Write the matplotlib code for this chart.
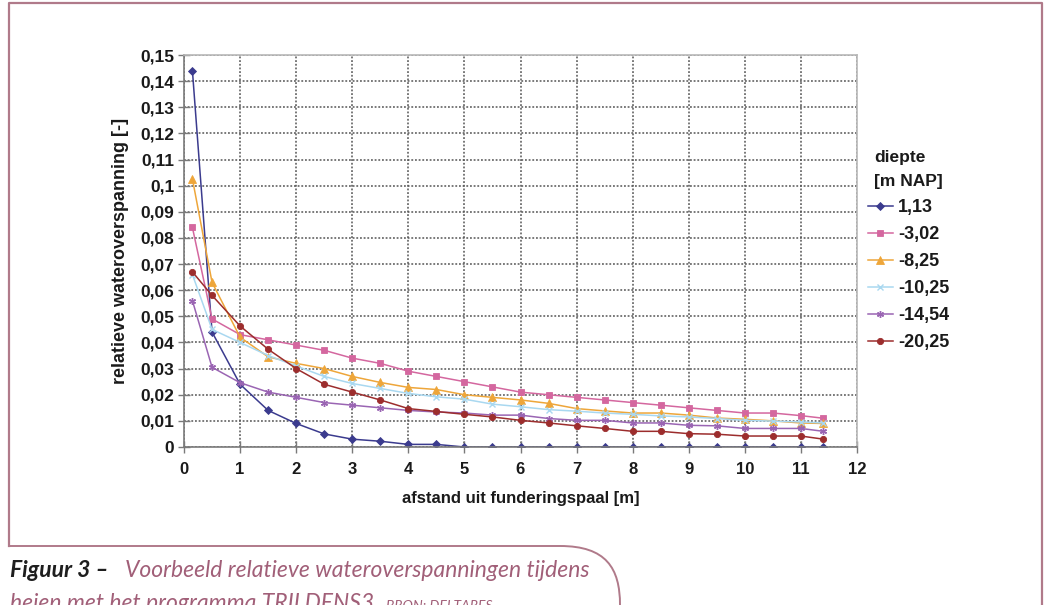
import matplotlib
matplotlib.use("Agg")
import matplotlib.pyplot as plt
from matplotlib.ticker import MultipleLocator, FuncFormatter
from matplotlib.path import Path
from matplotlib.patches import PathPatch
from matplotlib.lines import Line2D

# ---------------- data ----------------
afstand = [0.15, 0.5, 1, 1.5, 2, 2.5, 3, 3.5, 4, 4.5, 5, 5.5, 6, 6.5, 7, 7.5,
           8, 8.5, 9, 9.5, 10, 10.5, 11, 11.4]

d_1_13 = [0.144, 0.044, 0.024, 0.014, 0.009, 0.005, 0.003, 0.0022, 0.001, 0.001,
          0, 0, 0, 0, 0, 0, 0, 0, 0, 0, 0, 0, 0, 0]
d_3_02 = [0.084, 0.049, 0.043, 0.041, 0.039, 0.037, 0.034, 0.032, 0.029, 0.027,
          0.025, 0.023, 0.021, 0.020, 0.019, 0.018, 0.017, 0.016, 0.015, 0.014,
          0.013, 0.013, 0.012, 0.011]
d_8_25 = [0.1026, 0.063, 0.042, 0.0345, 0.032, 0.030, 0.027, 0.0247, 0.0228, 0.022,
          0.020, 0.019, 0.018, 0.0167, 0.0147, 0.0138, 0.013, 0.013, 0.0122, 0.0111,
          0.0106, 0.010, 0.0092, 0.009]
d_10_25 = [0.066, 0.045, 0.040, 0.035, 0.031, 0.027, 0.0243, 0.0224, 0.0205, 0.0192,
           0.0183, 0.0164, 0.0154, 0.0143, 0.0137, 0.013, 0.0125, 0.0119, 0.0115, 0.0109,
           0.0102, 0.0099, 0.0096, 0.0092]
d_14_54 = [0.056, 0.0305, 0.0246, 0.021, 0.019, 0.017, 0.016, 0.015, 0.014, 0.0134,
           0.013, 0.0122, 0.0122, 0.0109, 0.0102, 0.0102, 0.0092, 0.0092, 0.0083, 0.0081,
           0.0071, 0.0071, 0.0071, 0.006]
d_20_25 = [0.067, 0.058, 0.0463, 0.0374, 0.030, 0.024, 0.021, 0.018, 0.0147, 0.0136,
           0.0125, 0.0115, 0.0102, 0.0092, 0.0081, 0.0071, 0.006, 0.006, 0.0051, 0.0049,
           0.0042, 0.0042, 0.0042, 0.003]

series_labels = ["1,13", "-3,02", "-8,25", "-10,25", "-14,54", "-20,25"]
series_values = [d_1_13, d_3_02, d_8_25, d_10_25, d_14_54, d_20_25]

legend_title = "diepte\n[m NAP]"
x_label = "afstand uit funderingspaal [m]"
y_label = "relatieve wateroverspanning [-]"
caption_bold = "Figuur 3 \u2013"
caption_line1 = "Voorbeeld relatieve wateroverspanningen tijdens"
caption_line2 = "heien met het programma TRILDENS3."
caption_source = "BRON: DELTARES"

# ---------------- styles ----------------
colors = ["#3b3b8e", "#d4679f", "#eea63a", "#a9d8f0", "#9a65b3", "#9c2d2d"]
markers = ["D", "s", "^", "x", (6, 2, 0), "o"]
msizes = [4, 5, 5.5, 4.5, 5, 4.5]

W, H = 1045, 605
fig = plt.figure(figsize=(W / 100, H / 100), dpi=100)
fig.patch.set_facecolor("white")

def fx(px):
    return px / W

def fy(py):
    return 1 - py / H

ax = fig.add_axes([fx(184), fy(447), fx(857) - fx(184), fy(55) - fy(447)])

for vals, lab, c, m, ms in zip(series_values, series_labels, colors, markers, msizes):
    ax.plot(afstand, vals, color=c, marker=m, markersize=ms, linewidth=1.1,
            markeredgewidth=1.0 if m in ("x", (6, 2, 0)) else 0.6, label=lab)

ax.set_xlim(0, 12)
ax.set_ylim(0, 0.15)
ax.xaxis.set_major_locator(MultipleLocator(1))
ax.yaxis.set_major_locator(MultipleLocator(0.01))

def comma_fmt(v, pos):
    s = f"{v:.2f}".rstrip("0").rstrip(".")
    return s.replace(".", ",")

ax.yaxis.set_major_formatter(FuncFormatter(comma_fmt))
ax.xaxis.set_major_formatter(FuncFormatter(lambda v, p: f"{int(round(v))}"))

ax.grid(True, which="major", color="#555555", linestyle=(0, (1.2, 1.2)), linewidth=1.1)
ax.set_axisbelow(True)

for s in ("left", "bottom"):
    ax.spines[s].set_color("#7a7a7a")
    ax.spines[s].set_linewidth(1.2)
for s in ("top", "right"):
    ax.spines[s].set_color("#b8b8b8")
    ax.spines[s].set_linewidth(1.2)

ax.tick_params(axis="both", direction="inout", length=8, width=1.0, color="#7a7a7a",
               pad=3)
ax.tick_params(axis="x", pad=7, labelsize=12)
ax.tick_params(axis="y", labelsize=12.5)
for lbl in ax.get_xticklabels() + ax.get_yticklabels():
    lbl.set_fontfamily("Liberation Sans")
    lbl.set_fontweight("bold")
    lbl.set_color("#1a1a1a")

ax.set_xlabel(x_label, fontfamily="Liberation Sans", fontweight="bold", fontsize=12,
              color="#1a1a1a", labelpad=10)
ax.set_ylabel(y_label, fontfamily="Liberation Sans", fontweight="bold", fontsize=13,
              color="#1a1a1a", labelpad=8)

leg = ax.legend(title=legend_title, loc="upper left",
                bbox_to_anchor=(fx(861), fy(143)), bbox_transform=fig.transFigure,
                frameon=False, handlelength=1.35, handletextpad=0.3,
                labelspacing=0.56, borderaxespad=0,
                prop=dict(family="Liberation Sans", weight="bold", size=13),
                title_fontproperties=dict(family="Liberation Sans", weight="bold", size=12.5))
leg._legend_box.align = "center"
leg._legend_box.sep = 7
for t in leg.get_texts():
    t.set_color("#1a1a1a")
leg.get_title().set_color("#1a1a1a")
leg.get_title().set_linespacing(1.75)

# ---------------- border ----------------
bcol = "#b07a8a"
verts = [(fx(9), fy(546)), (fx(9), fy(3)), (fx(1042), fy(3)), (fx(1042), fy(605))]
fig.add_artist(Line2D([v[0] for v in verts], [v[1] for v in verts],
                      transform=fig.transFigure, color=bcol, linewidth=1.6))
# lower edge and caption tab (rounded corner)
tab = Path([(fx(9), fy(546)), (fx(560), fy(546)),
            (fx(606), fy(546)), (fx(620), fy(568)), (fx(620), fy(605))],
           [Path.MOVETO, Path.LINETO, Path.CURVE4, Path.CURVE4, Path.CURVE4])
fig.add_artist(PathPatch(tab, transform=fig.transFigure, facecolor="none",
                         edgecolor=bcol, linewidth=1.4))

# ---------------- caption ----------------
cap_col = "#a15f78"
cfam = "Lato"
t1 = fig.text(fx(10), fy(577), caption_bold, fontfamily=cfam, fontstyle="italic",
              fontweight="bold", fontsize=16.5, color="#1e1e1e", va="baseline")
fig.canvas.draw()
r = fig.canvas.get_renderer()
bb = t1.get_window_extent(r)
t2 = fig.text((bb.x1 + 16) / W, fy(577), caption_line1, fontfamily=cfam,
              fontstyle="italic", fontsize=16.5, color=cap_col, va="baseline")
t3 = fig.text(fx(10), fy(610), caption_line2, fontfamily=cfam, fontstyle="italic",
              fontsize=16.5, color=cap_col, va="baseline")
fig.canvas.draw()
bb3 = t3.get_window_extent(r)
fig.text((bb3.x1 + 6) / W, fy(610), caption_source, fontfamily=cfam, fontstyle="italic",
         fontsize=10, color=cap_col, va="baseline")

fig.savefig("out.png", dpi=100)
